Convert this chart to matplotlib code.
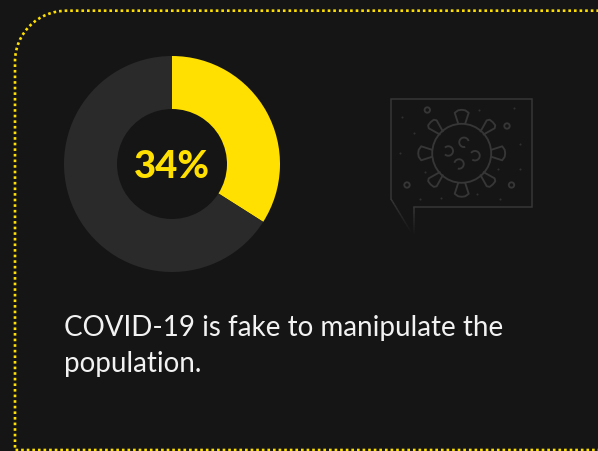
import numpy as np
import matplotlib
matplotlib.use("Agg")
import matplotlib.pyplot as plt
from matplotlib.path import Path
from matplotlib.patches import PathPatch, Circle, Arc

plt.rcParams['lines.scale_dashes'] = False

# --- data ---
categories = ["Agree", "Other"]
shares = [34, 66]
center_label = "34%"
caption_lines = ["COVID-19 is fake to manipulate the", "population."]

BG = "#151515"
YEL = "#FFE000"
GREY = "#2A2A2A"
ICON = "#363636"
W, H = 598, 451

fig = plt.figure(figsize=(W / 100, H / 100), dpi=100, facecolor=BG)
ax = fig.add_axes([0, 0, 1, 1])
ax.set_xlim(0, W)
ax.set_ylim(H, 0)
ax.axis("off")

# dotted frame
verts = [(610, 10.7), (67, 10.7), (38, 10.7), (15, 33), (15, 62), (15, 450), (610, 450)]
codes = [Path.MOVETO, Path.LINETO, Path.CURVE4, Path.CURVE4, Path.CURVE4, Path.LINETO, Path.LINETO]
ax.add_patch(PathPatch(Path(verts, codes), fill=False, edgecolor=YEL, lw=1.9,
                       linestyle=(0, (1.9, 2.13)), capstyle="butt", joinstyle="round"))

# donut
cx, cy, R = 172, 164, 108
dax = fig.add_axes([(cx - R) / W, 1 - (cy + R) / H, 2 * R / W, 2 * R / H])
dax.pie(shares, colors=[YEL, GREY], startangle=90, counterclock=False, radius=1,
        wedgeprops=dict(width=53 / 108, linewidth=0))
dax.set_xlim(-1, 1)
dax.set_ylim(-1, 1)
dax.set_aspect("auto")
dax.patch.set_alpha(0)
dax.text(0.0, -0.025, center_label, ha="center", va="center", color=YEL,
         fontsize=27.5, fontweight=900, family="Lato")

# caption
for line, base in zip(caption_lines, [336, 372]):
    ax.text(64, base, line, color="#F2F2F2", fontsize=20.0, family="Lato",
            ha="left", va="baseline")

# decorative speech-bubble icon
lw = 1.1
bub = [(414, 207), (532, 207), (532, 99), (391, 99), (391, 199)]
ax.plot(*zip(*bub), color=ICON, lw=lw, solid_joinstyle="miter")
for start, end in [((391, 199), (411, 232)), ((414, 207), (414, 234))]:
    s, e = np.array(start), np.array(end)
    for k in range(12):
        a, b = s + (e - s) * k / 12, s + (e - s) * (k + 1) / 12
        ax.plot([a[0], b[0]], [a[1], b[1]], color=ICON, lw=lw, alpha=1 - k / 12,
                solid_capstyle="butt")

vx, vy = 461.7, 153.3
slw = 1.35
ax.add_patch(Circle((vx, vy), 29.5, fill=False, edgecolor=ICON, lw=slw))
for deg in np.arange(0, 360, 45):
    a = np.deg2rad(deg)
    u = np.array([np.cos(a), np.sin(a)])
    n = np.array([-u[1], u[0]])
    c = np.array([vx, vy])
    if deg % 90 == 0:
        p = [c + u * 30 + n * 3.6, c + u * 40.5 + n * 7, c + u * 43 + n * 3.5, c + u * 43.5,
             c + u * 43 - n * 3.5, c + u * 40.5 - n * 7, c + u * 30 - n * 3.6]
    else:
        p = [c + u * 29 + n * 2.2, c + u * 41 + n * 5.6, c + u * 43.5 + n * 4, c + u * 44,
             c + u * 43.5 - n * 4, c + u * 41 - n * 5.6, c + u * 29 - n * 2.2]
    ax.plot(*zip(*p), color=ICON, lw=slw, solid_joinstyle="round")
for (x, y), d in zip([(464, 142.3), (448.3, 151), (475, 155.7), (459, 164)], [30, 180, 170, 150]):
    ax.add_patch(Arc((x, y), 9.5, 9.5, angle=d, theta1=45, theta2=315,
                     edgecolor=ICON, lw=slw))
for x, y in [(427.3, 110), (507, 126), (407, 185), (511.5, 185)]:
    ax.add_patch(Circle((x, y), 2.7, fill=False, edgecolor=ICON, lw=slw))
dots = [(402, 117), (414, 133), (400, 153), (425, 172), (479, 110), (514, 108),
        (520, 144), (498, 169), (520, 169), (441, 198), (420, 199), (477, 194), (500, 199)]
ax.scatter(*zip(*dots), s=2.2, color="#303030", linewidths=0)

fig.savefig("out.png", dpi=100, facecolor=BG)
